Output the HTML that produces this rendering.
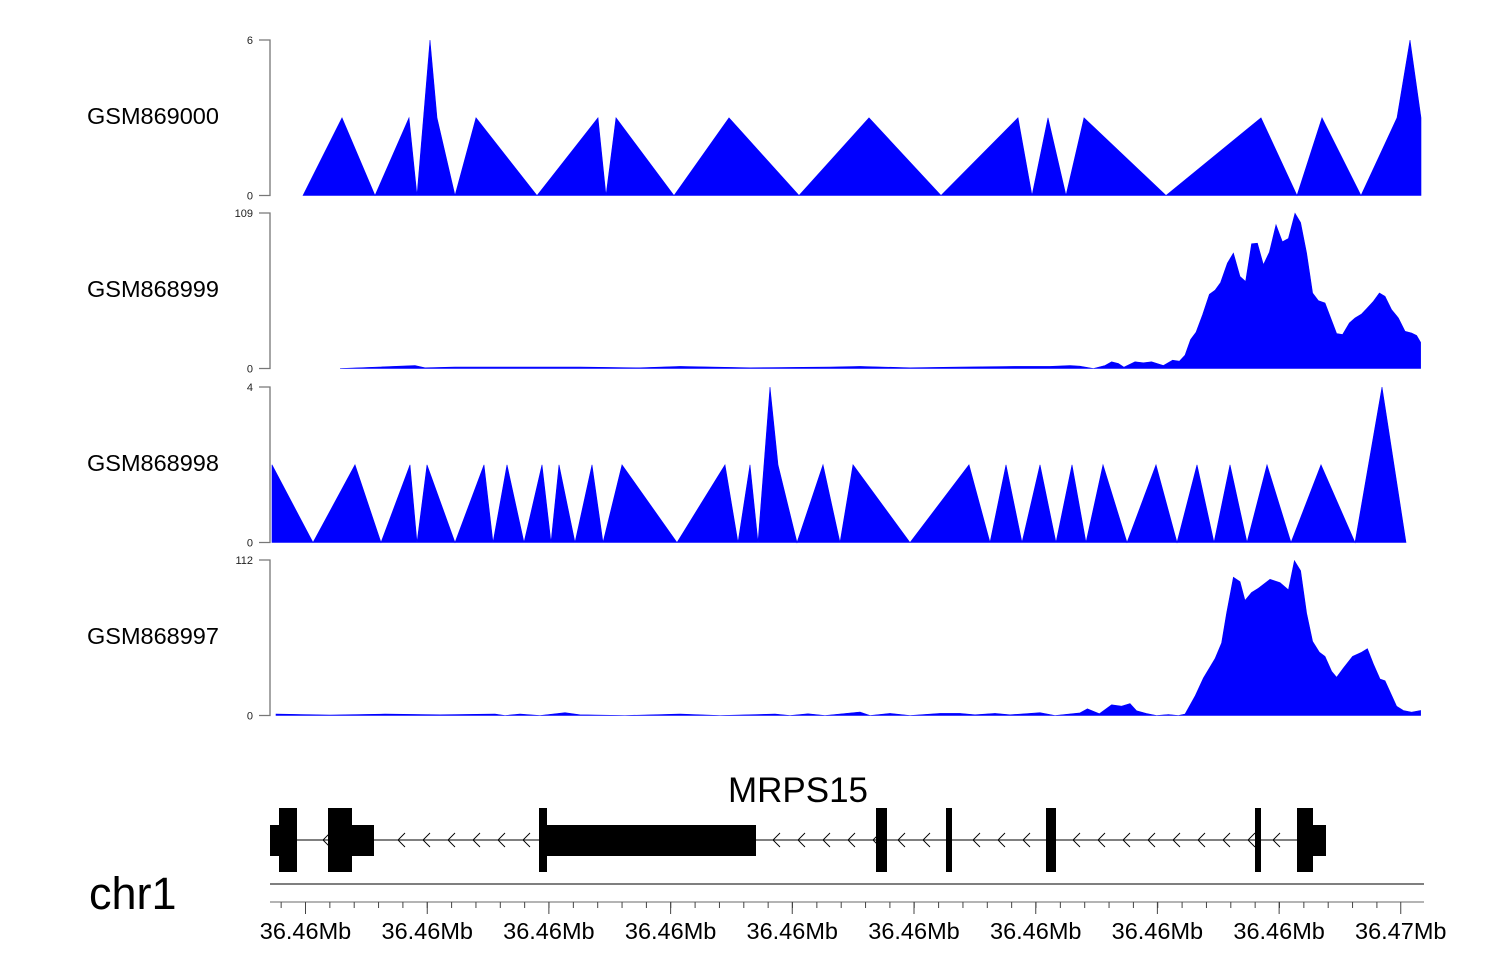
<!DOCTYPE html>
<html><head><meta charset="utf-8"><style>
html,body{margin:0;padding:0;background:#fff;}
svg{display:block;font-family:"Liberation Sans",Arial,sans-serif;}
</style></head><body>
<svg id="chart" width="1500" height="980" viewBox="0 0 1500 980" xmlns="http://www.w3.org/2000/svg">
<g id="tracks"></g>
<g id="gene"></g>
<g id="axis"></g>
</svg>
<script>
// ---- data (positions are bp offsets from region start) ----
const regionStart = 36456700;
const bpPerPx = 8;
const trackNames = ["GSM869000","GSM868999","GSM868998","GSM868997"];
const trackMax = [6,109,4,112];
const t1Pos = [264,576,840,1112,1176,1280,1336,1480,1648,2136,2624,2688,2768,3232,3672,4232,4792,5368,5984,6096,6224,6368,6512,7168,7928,8216,8416,8728,9016,9120,9208];
const t1Val = [0,3,0,3,0,6,3,0,3,0,3,0,3,0,3,0,3,0,3,0,3,0,3,0,3,0,3,0,3,6,3];
const t2Pos = [560,1160,1240,1480,1960,2480,2960,3280,3840,4480,4720,5120,5520,5960,6240,6400,6480,6587,6680,6733,6787,6832,6920,6987,7053,7147,7221,7275,7320,7365,7408,7461,7515,7560,7605,7659,7707,7760,7805,7853,7899,7947,7995,8048,8099,8147,8200,8245,8293,8341,8387,8440,8533,8581,8635,8680,8733,8773,8827,8875,8920,8973,9027,9080,9133,9173,9205];
const t2Val = [0,2,0.5,1,1,1,0.5,1.5,0.5,1,1.5,0.5,1,1.5,1.5,2,1.6,0,2.1,4.7,3.5,0.9,4.7,4.0,4.7,2.1,5.8,5.1,9.3,20.3,25.4,37.7,52,54.8,60.3,73.9,80.9,64.5,61,87.4,87.8,72.7,81.6,100.7,88.8,91.1,108.8,102.3,80.9,52.9,47.5,45.9,24.5,23.8,31.9,35.4,38.2,41.9,47.1,52.9,50.6,41.2,35.4,26.1,24.9,23.1,18.4];
const t3Pos = [16,344,680,888,1120,1176,1256,1480,1712,1784,1896,2032,2176,2248,2312,2440,2576,2664,2816,3256,3640,3744,3840,3904,4000,4064,4216,4424,4560,4664,5120,5592,5760,5888,6016,6160,6288,6416,6528,6664,6856,7088,7256,7416,7552,7680,7816,7976,8168,8408,8680,8896,9088];
const t3Val = [2,0,2,0,2,0,2,0,2,0,2,0,2,0,2,0,2,0,2,0,2,0,2,0,4,2,0,2,0,2,0,2,0,2,0,2,0,2,0,2,0,2,0,2,0,2,0,2,0,2,0,4,0];
const t4Pos = [48,480,920,1360,1800,1880,2000,2160,2360,2480,2840,3280,3600,4040,4160,4304,4440,4720,4800,4960,5120,5360,5520,5640,5800,5920,6160,6280,6480,6539,6635,6733,6813,6880,6933,7013,7093,7187,7267,7320,7400,7467,7560,7613,7653,7707,7760,7800,7853,7907,8000,8080,8147,8195,8245,8293,8341,8395,8440,8493,8533,8587,8661,8733,8779,8827,8880,8920,9013,9067,9133,9205];
const t4Val = [1,0.3,1,0.5,1,0,1,0,2,0.5,0,1,0,1,0,1.2,0,2.5,0,1.5,0,1.5,1.5,0.5,1.5,0.5,2,0,1.9,4.8,1.2,7.7,6.7,8.6,3.4,1.4,0,0.7,0,1,13.9,27,40.9,52.2,73.7,99.6,96.4,82.8,88.6,91.7,98.1,95.7,90.5,111.5,104.3,73.7,53.4,45.5,42.6,31.8,27.5,34.2,42.6,45.5,48.1,37.1,26.3,25.1,6.7,3.6,2.4,3.6];
const exonStart = [0,72,464,656,2152,2216,4848,5408,6208,7880,8216,8344];
const exonEnd   = [72,216,656,832,2216,3888,4936,5456,6288,7928,8344,8448];
const exonTall  = [0,1,1,0,1,0,1,1,1,1,1,0];
const geneName = "MRPS15";
const chromName = "chr1";
const tickPos = [284,1258,2231,3205,4178,5152,6126,7099,8073,9046];
const tickLabels = ["36.46Mb","36.46Mb","36.46Mb","36.46Mb","36.46Mb","36.46Mb","36.46Mb","36.46Mb","36.46Mb","36.47Mb"];

const NS="http://www.w3.org/2000/svg";
function mk(tag,attrs,parent){const e=document.createElementNS(NS,tag);for(const k in attrs)e.setAttribute(k,attrs[k]);parent.appendChild(e);return e;}
function xScale(p){return 270 + p/bpPerPx;}
const trackTops=[40,213,387,560], trackH=155.5;
const tracks=document.getElementById('tracks');
const allPos=[t1Pos,t2Pos,t3Pos,t4Pos], allVal=[t1Val,t2Val,t3Val,t4Val];
for(let i=0;i<4;i++){
  const top=trackTops[i], base=top+trackH;
  const y=v=>base - v/trackMax[i]*trackH;
  const g=mk('g',{},tracks);
  
  
  const lab=mk('text',{x:87,y:(top+base)/2+6,'font-size':'23.5',fill:'#000'},g);
  lab.textContent=trackNames[i];
  
  
  const ax=mk('path',{d:`M259,${top}H270V${base}H259`,stroke:'#777','stroke-width':1.3,fill:'none'},g);
  
  
  const tm=mk('text',{x:253,y:top+4,'font-size':'11','text-anchor':'end',fill:'#222'},g);
  tm.textContent=String(trackMax[i]);
  
  
  const t0=mk('text',{x:253,y:base+4,'font-size':'11','text-anchor':'end',fill:'#222'},g);
  t0.textContent='0';
  
  
  const P=allPos[i],V=allVal[i];
  let d=`M${xScale(P[0])},${base}`;
  for(let k=0;k<P.length;k++) d+=`L${xScale(P[k]).toFixed(1)},${y(V[k]).toFixed(1)}`;
  d+=`L${xScale(P[P.length-1])},${base}Z`;
  const area=mk('path',{d:d,fill:'#0000ff',stroke:'#0000ff','stroke-width':0.6},g);
  
  
}
// gene model
const gene=document.getElementById('gene');
const gy=840;
const intron=mk('line',{x1:270,y1:gy,x2:xScale(exonEnd[exonEnd.length-1]),y2:gy,stroke:'#000','stroke-width':1},gene);


const gEnd=xScale(exonEnd[exonEnd.length-1]);
for(let cx=298;cx<gEnd-10;cx+=25){
  let inside=false;
  for(let k=0;k<exonStart.length;k++){if(cx>=xScale(exonStart[k])-1&&cx<=xScale(exonEnd[k])+7)inside=true;}
  if(inside)continue;
  const ch=mk('path',{d:`M${cx+7},${gy-7}L${cx},${gy}L${cx+7},${gy+7}`,stroke:'#000','stroke-width':0.9,fill:'none'},gene);
  
  
}
for(let k=0;k<exonStart.length;k++){
  const x0=xScale(exonStart[k]),x1=xScale(exonEnd[k]);
  const yt=exonTall[k]?808:825, h=exonTall[k]?64:31;
  const r=mk('rect',{x:x0,y:yt,width:x1-x0,height:h,fill:'#000'},gene);
  
  
}
const gl=mk('text',{x:798,y:802,'font-size':'35','text-anchor':'middle',fill:'#000'},gene);
gl.textContent=geneName;


// axis
const axis=document.getElementById('axis');
const sep=mk('line',{x1:270,y1:884,x2:1424,y2:884,stroke:'#333','stroke-width':1.2},axis);


const bl=mk('line',{x1:270,y1:902,x2:1424,y2:902,stroke:'#888','stroke-width':1.2},axis);


const minorStep=(tickPos[1]-tickPos[0])/5;
for(let p=tickPos[0]-minorStep;p<=tickPos[tickPos.length-1]+1;p+=minorStep){
  const x=xScale(p);
  const mt=mk('line',{x1:x,y1:902,x2:x,y2:908,stroke:'#444','stroke-width':1},axis);
  
  
}
for(let k=0;k<tickPos.length;k++){
  const x=xScale(tickPos[k]);
  const t=mk('line',{x1:x,y1:902,x2:x,y2:914,stroke:'#444','stroke-width':1},axis);
  
  
  const tl=mk('text',{x:x,y:939,'font-size':'23.5','text-anchor':'middle',fill:'#000'},axis);
  tl.textContent=tickLabels[k];
  
  
}
const cl=mk('text',{x:89,y:909,'font-size':'45',fill:'#000'},axis);
cl.textContent=chromName;


</script>
</body></html>
